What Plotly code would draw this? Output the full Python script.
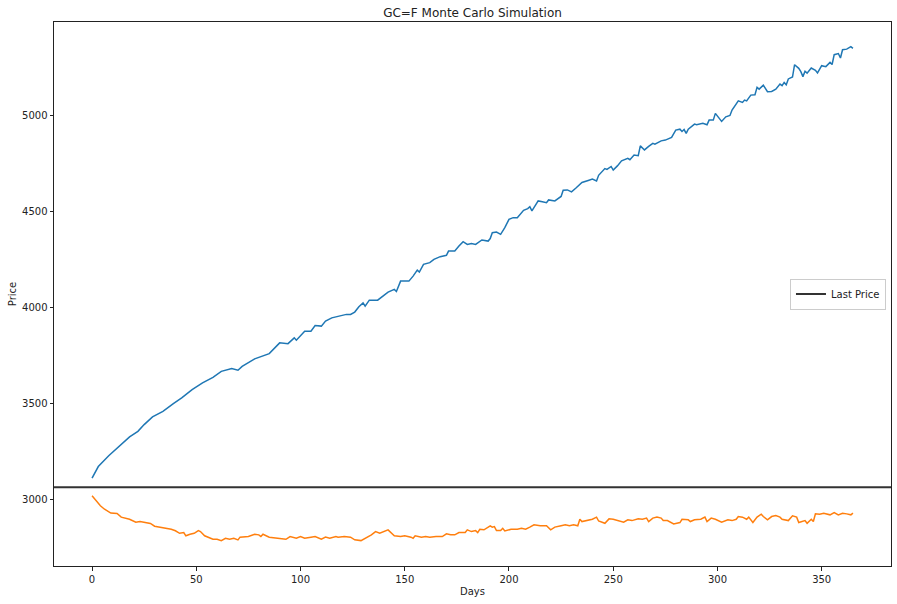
import plotly.graph_objects as go

last_price = 3065

sim1_days = [0, 3, 8, 13, 18, 22, 25, 29, 34, 39, 43, 48, 53, 58, 62, 67, 70, 72, 78, 85,
             90, 94, 97, 98, 102, 105, 107, 110, 112, 115, 119, 122, 124, 126, 128, 130, 131,
             133, 137, 142, 145, 146, 148, 152, 154, 156, 157, 159, 162, 164, 167, 170, 171,
             174, 176, 178, 180, 182, 184, 187, 190, 191, 192, 194, 196, 198, 200, 202, 204,
             206, 207, 209, 210, 211, 214, 216, 218, 219, 222, 225, 226, 228, 230, 232, 235,
             238, 240, 242, 243, 246, 247, 249, 250, 252, 254, 257, 258, 260, 262, 263, 265,
             267, 269, 270, 273, 275, 278, 280, 282, 283, 284, 285, 286, 289, 290, 293, 295,
             296, 298, 299, 302, 304, 306, 307, 310, 312, 313, 314, 316, 318, 319, 320, 322,
             324, 326, 328, 330, 331, 332, 333, 334, 336, 337, 339, 340, 341, 342, 343, 345,
             347, 348, 350, 352, 354, 355, 356, 358, 359, 360, 362, 364, 365]
sim1_price = [3113, 3173, 3229, 3278, 3327, 3356, 3391, 3431, 3460, 3500, 3530, 3573, 3608,
              3637, 3668, 3682, 3674, 3694, 3733, 3760, 3816, 3812, 3842, 3830, 3877, 3877,
              3906, 3903, 3929, 3946, 3955, 3964, 3964, 3976, 4004, 4024, 4007, 4038, 4038,
              4080, 4094, 4083, 4137, 4137, 4163, 4194, 4184, 4224, 4233, 4250, 4264, 4271,
              4293, 4293, 4319, 4342, 4328, 4333, 4328, 4351, 4345, 4358, 4389, 4392, 4380,
              4415, 4458, 4467, 4467, 4490, 4505, 4514, 4524, 4502, 4554, 4550, 4545, 4559,
              4554, 4577, 4609, 4611, 4601, 4620, 4650, 4660, 4667, 4658, 4687, 4722, 4718,
              4733, 4714, 4736, 4762, 4775, 4768, 4792, 4789, 4840, 4819, 4837, 4853, 4849,
              4866, 4870, 4884, 4922, 4927, 4915, 4925, 4905, 4927, 4953, 4950, 4957, 4950,
              4974, 4974, 5009, 4967, 4991, 4998, 5026, 5074, 5066, 5078, 5074, 5104, 5106,
              5144, 5135, 5156, 5122, 5123, 5135, 5161, 5153, 5170, 5158, 5188, 5198, 5262,
              5243, 5226, 5200, 5228, 5218, 5245, 5233, 5219, 5257, 5252, 5274, 5263, 5314,
              5320, 5297, 5340, 5343, 5356, 5347]

sim2_days = [0, 2, 4, 6, 9, 12, 14, 18, 21, 23, 26, 28, 30, 34, 38, 40, 42, 44, 45, 47, 49,
             51, 52, 54, 58, 60, 62, 64, 66, 68, 70, 71, 75, 78, 80, 81, 82, 85, 89, 93, 95,
             98, 100, 102, 105, 107, 110, 112, 114, 117, 118, 121, 124, 126, 129, 131, 134,
             136, 138, 142, 143, 145, 148, 150, 153, 154, 155, 158, 160, 162, 165, 168, 170,
             172, 174, 176, 179, 180, 182, 184, 185, 186, 188, 190, 191, 192, 193, 194, 196,
             197, 198, 201, 204, 206, 208, 210, 212, 215, 218, 220, 222, 225, 227, 229, 231,
             233, 234, 235, 238, 240, 242, 243, 246, 248, 250, 253, 255, 257, 259, 262, 264,
             266, 267, 269, 271, 273, 274, 276, 279, 282, 283, 286, 287, 289, 292, 294, 295,
             297, 299, 302, 305, 307, 309, 310, 312, 314, 315, 317, 319, 321, 322, 324, 326,
             328, 330, 331, 334, 336, 338, 339, 342, 343, 345, 346, 347, 349, 351, 354, 356,
             358, 360, 362, 364, 365]
sim2_price = [3021, 2996, 2969, 2951, 2931, 2929, 2910, 2899, 2884, 2887, 2880, 2877, 2863,
              2856, 2847, 2839, 2826, 2830, 2813, 2821, 2826, 2840, 2835, 2813, 2795, 2795,
              2788, 2800, 2795, 2800, 2792, 2806, 2809, 2821, 2818, 2809, 2821, 2806, 2800,
              2795, 2809, 2800, 2809, 2800, 2806, 2809, 2795, 2806, 2800, 2809, 2806, 2809,
              2806, 2792, 2788, 2800, 2818, 2835, 2826, 2844, 2835, 2813, 2809, 2813, 2806,
              2800, 2813, 2806, 2809, 2806, 2809, 2809, 2823, 2818, 2818, 2830, 2830, 2844,
              2835, 2840, 2830, 2847, 2844, 2861, 2865, 2858, 2861, 2840, 2840, 2852, 2838,
              2847, 2847, 2852, 2847, 2858, 2870, 2865, 2865, 2844, 2858, 2865, 2870, 2865,
              2870, 2865, 2899, 2887, 2892, 2899, 2910, 2890, 2878, 2901, 2899, 2892, 2884,
              2896, 2892, 2901, 2899, 2905, 2887, 2905, 2910, 2905, 2892, 2892, 2875, 2882,
              2899, 2896, 2887, 2896, 2899, 2910, 2887, 2905, 2899, 2884, 2896, 2892, 2899,
              2913, 2910, 2899, 2910, 2882, 2910, 2925, 2913, 2896, 2913, 2918, 2910, 2899,
              2892, 2917, 2910, 2882, 2892, 2878, 2899, 2887, 2927, 2925, 2930, 2922, 2934,
              2922, 2930, 2927, 2922, 2931]

x_ticks = [0, 50, 100, 150, 200, 250, 300, 350]
y_ticks = [3000, 3500, 4000, 4500, 5000]

fig = go.Figure()

fig.add_trace(go.Scatter(x=sim1_days, y=sim1_price, mode='lines',
                         line=dict(color='#1f77b4', width=1.5), showlegend=False))
fig.add_trace(go.Scatter(x=sim2_days, y=sim2_price, mode='lines',
                         line=dict(color='#ff7f0e', width=1.5), showlegend=False))

# horizontal last price line + a legend-only entry for it
fig.add_hline(y=last_price, line=dict(color='#333333', width=2))
fig.add_trace(go.Scatter(x=[None], y=[None], mode='lines', name='Last Price',
                         line=dict(color='#333333', width=2)))

axis_style = dict(showgrid=False, zeroline=False, showline=True, linecolor='#222222',
                  linewidth=1, mirror=True, ticks='outside', ticklen=3.5, tickwidth=1,
                  tickcolor='#222222', tickfont=dict(size=10, color='#222222'),
                  automargin=False)

fig.update_xaxes(range=[-18.25, 383.25], tickvals=x_ticks,
                 title=dict(text='Days', font=dict(size=10, color='#222222'), standoff=4),
                 **axis_style)
fig.update_yaxes(range=[2656, 5484], tickvals=y_ticks,
                 title=dict(text='Price', font=dict(size=10, color='#222222'), standoff=3),
                 **axis_style)

fig.update_layout(
    width=897, height=604,
    margin=dict(l=54, r=6, t=22, b=38),
    paper_bgcolor='white', plot_bgcolor='white',
    font=dict(family='DejaVu Sans', color='#222222'),
    title=dict(text='GC=F Monte Carlo Simulation', x=0.5, xref='paper', xanchor='center',
               y=1 - 13 / 604, yanchor='middle', font=dict(size=12, color='#222222')),
    legend=dict(x=0.994, xanchor='right', y=0.5, yanchor='middle',
                bordercolor='#cccccc', borderwidth=1, bgcolor='rgba(255,255,255,0.8)',
                font=dict(size=10, color='#222222'), itemwidth=30),
)

# page body has an 8px default margin; drop it so the figure fills the window
fig.write_html("out.html", config={'displayModeBar': False},
               post_script="document.body.style.margin='0';")
